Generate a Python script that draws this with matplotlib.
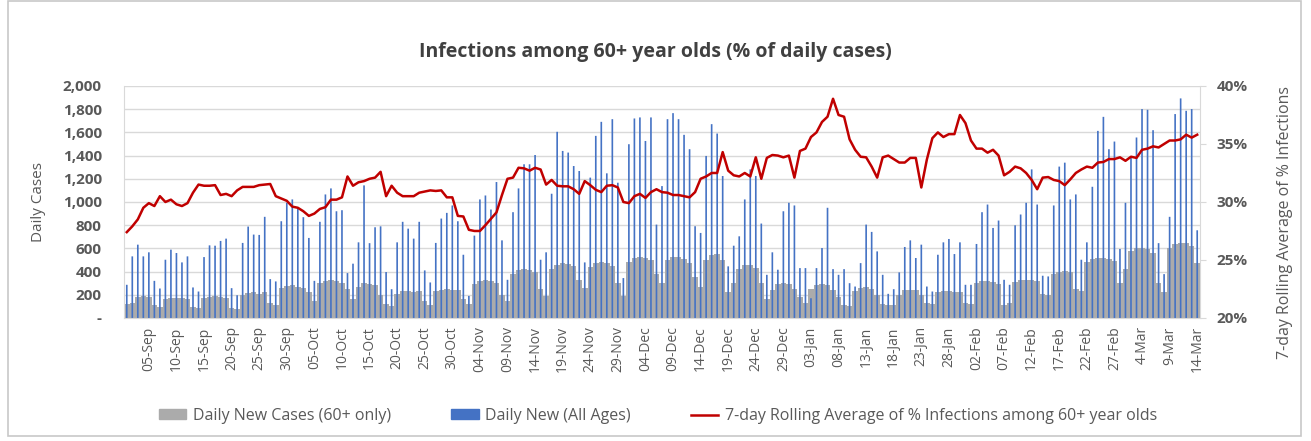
import matplotlib.pyplot as plt
import matplotlib.ticker as mtick
from matplotlib.patches import Rectangle, Patch
from matplotlib.lines import Line2D
import numpy as np

plt.rcParams['font.family'] = ['Open Sans', 'DejaVu Sans']

# daily values, 01-Sep .. 14-Mar
all_ages = [286, 531, 632, 531, 566, 320, 254, 502, 589, 560, 479, 531, 263, 228,
            525, 626, 623, 664, 684, 257, 196, 647, 788, 719, 716, 872, 335, 315,
            834, 993, 1022, 950, 869, 690, 320, 829, 1065, 1117, 920, 929, 387, 468,
            652, 1143, 645, 782, 790, 396, 248, 652, 829, 770, 684, 829, 410, 306,
            647, 857, 906, 970, 834, 545, 190, 710, 1022, 1056, 935, 1172, 669, 329,
            912, 1117, 1325, 1325, 1405, 502, 566, 1071, 1605, 1440, 1426, 1310, 1267, 479,
            1210, 1570, 1691, 1247, 1714, 1166, 344, 1498, 1720, 1729, 1526, 1729, 805, 1137,
            1714, 1766, 1714, 1579, 1455, 791, 733, 1397, 1671, 1590, 1224, 445, 623, 704,
            1022, 1281, 1224, 814, 372, 566, 416, 920, 993, 970, 430, 430, 170, 430,
            603, 950, 421, 372, 421, 300, 271, 473, 805, 742, 574, 372, 208, 248,
            393, 612, 669, 517, 632, 271, 228, 545, 652, 681, 551, 652, 286, 286,
            638, 912, 978, 776, 840, 329, 286, 799, 892, 993, 1281, 978, 364, 358,
            970, 1305, 1339, 1022, 1065, 502, 652, 1131, 1613, 1734, 1455, 1521, 595, 993,
            1391, 1556, 1801, 1795, 1619, 645, 378, 872, 1758, 1893, 1786, 1801, 756]

over60 = [120, 130, 180, 190, 185, 110, 95, 160, 175, 170, 170, 165, 95, 90,
          175, 185, 190, 185, 175, 90, 80, 200, 215, 220, 210, 220, 130, 110,
          260, 275, 280, 270, 260, 220, 150, 300, 320, 330, 320, 300, 250, 160,
          270, 300, 290, 280, 200, 120, 100, 210, 230, 235, 225, 230, 150, 110,
          230, 245, 250, 245, 240, 160, 120, 290, 320, 325, 320, 300, 200, 150,
          380, 410, 420, 410, 400, 250, 190, 420, 460, 470, 465, 450, 330, 260,
          440, 470, 480, 470, 450, 300, 190, 480, 520, 525, 520, 500, 380, 300,
          500, 525, 525, 510, 470, 350, 270, 500, 540, 550, 500, 220, 300, 420,
          460, 460, 430, 300, 160, 240, 290, 300, 295, 250, 180, 130, 250, 280,
          290, 280, 240, 180, 110, 100, 230, 260, 265, 250, 200, 120, 110, 115,
          200, 240, 245, 240, 200, 130, 120, 220, 230, 230, 225, 220, 130, 120,
          300, 320, 315, 310, 290, 115, 130, 310, 330, 330, 325, 320, 210, 200,
          380, 400, 405, 395, 250, 230, 480, 510, 520, 515, 510, 490, 300, 420,
          580, 600, 605, 595, 560, 300, 220, 600, 640, 650, 645, 620, 470]

pct_avg = [27.4, 27.9, 28.5, 29.5, 29.9, 29.65, 30.5, 30.0, 30.2, 29.8, 29.65, 29.9, 30.8, 31.5,
           31.4, 31.4, 31.45, 30.6, 30.7, 30.5, 31.0, 31.3, 31.3, 31.3, 31.45, 31.5, 31.55, 30.5,
           30.3, 30.1, 29.6, 29.5, 29.2, 28.8, 29.0, 29.4, 29.55, 30.2, 30.2, 30.4, 32.2, 31.4,
           31.7, 31.8, 32.0, 32.1, 32.6, 30.5, 31.4, 30.8, 30.5, 30.5, 30.5, 30.8, 30.9, 31.0,
           30.95, 31.0, 30.4, 30.4, 28.8, 28.75, 27.6, 27.5, 27.5, 28.0, 28.55, 29.1, 30.6, 32.0,
           32.1, 32.95, 32.9, 32.7, 32.95, 32.8, 31.5, 31.9, 31.4, 31.35, 31.35, 31.1, 30.7, 31.8,
           31.45, 31.05, 30.85, 31.4, 31.45, 31.25, 30.0, 29.9, 30.5, 30.7, 30.35, 30.85, 31.1, 30.85,
           30.8, 30.6, 30.6, 30.5, 30.4, 30.85, 32.0, 32.2, 32.5, 32.5, 34.3, 32.7, 32.3, 32.2,
           32.5, 32.2, 33.85, 32.0, 33.8, 34.05, 34.0, 33.85, 34.0, 32.1, 34.4, 34.6, 35.6, 36.0,
           36.9, 37.35, 38.9, 37.5, 37.35, 35.4, 34.5, 33.9, 33.85, 33.05, 32.1, 33.85, 34.0, 33.7,
           33.4, 33.4, 33.8, 33.8, 31.25, 33.65, 35.5, 36.0, 35.6, 35.85, 35.85, 37.5, 36.8, 35.3,
           34.6, 34.6, 34.25, 34.5, 34.0, 32.3, 32.6, 33.05, 32.9, 32.5, 31.9, 31.1, 32.1, 32.15,
           31.9, 31.8, 31.45, 31.95, 32.5, 32.8, 33.05, 32.95, 33.4, 33.45, 33.7, 33.7, 33.85, 33.55,
           33.9, 33.8, 34.5, 34.6, 34.8, 34.7, 35.0, 35.3, 35.3, 35.4, 35.8, 35.55, 35.8]

tick_labels = ['05-Sep', '10-Sep', '15-Sep', '20-Sep', '25-Sep', '30-Sep',
               '05-Oct', '10-Oct', '15-Oct', '20-Oct', '25-Oct', '30-Oct',
               '04-Nov', '09-Nov', '14-Nov', '19-Nov', '24-Nov', '29-Nov',
               '04-Dec', '09-Dec', '14-Dec', '19-Dec', '24-Dec', '29-Dec',
               '03-Jan', '08-Jan', '13-Jan', '18-Jan', '23-Jan', '28-Jan',
               '02-Feb', '07-Feb', '12-Feb', '17-Feb', '22-Feb', '27-Feb',
               '4-Mar', '9-Mar', '14-Mar']

grey = '#ABABAB'
blue = '#4472C4'
red = '#C00000'
txt = '#595959'
gridc = '#D9D9D9'

x = np.arange(len(all_ages))
pct = np.array(pct_avg) / 100

fig = plt.figure(figsize=(13.11, 4.41), dpi=100)
fig.patches.append(Rectangle((0.006, 0.012), 0.986, 0.985, transform=fig.transFigure,
                             fill=False, edgecolor='#C8C8C8', linewidth=1.2))
ax = fig.add_axes([0.0946, 0.279, 0.8207, 0.526])

ax.bar(x, over60, width=1.0, color=grey, zorder=2)
ax.bar(x, all_ages, width=0.3, color=blue, zorder=3, snap=False, linewidth=0)
ax.set_xlim(-0.5, len(x) - 0.5)
ax.set_ylim(0, 2000)
ax.set_yticks(range(0, 2001, 200))
ax.yaxis.set_major_formatter(mtick.FuncFormatter(lambda v, p: '-' if v == 0 else f'{int(v):,}'))
ax.grid(axis='y', color=gridc, linewidth=1, zorder=0)
ax.set_axisbelow(True)
for s in ['top', 'right']:
    ax.spines[s].set_visible(False)
ax.spines['left'].set_color(gridc)
ax.spines['bottom'].set_color(gridc)
ax.tick_params(axis='y', length=0, labelsize=11, labelcolor=txt, pad=16)
for lb in ax.get_yticklabels():
    lb.set_fontweight('bold')
ax.set_xticks(x[4::5])
ax.set_xticklabels(tick_labels, rotation=90, fontsize=10, color=txt)
ax.tick_params(axis='x', length=0, pad=6)
ax.set_ylabel('Daily Cases', fontsize=11, color=txt, labelpad=12)

ax2 = ax.twinx()
ax2.plot(x, pct, color=red, linewidth=1.8, zorder=4)
ax2.set_ylim(0.20, 0.40)
ax2.set_yticks([0.20, 0.25, 0.30, 0.35, 0.40])
ax2.yaxis.set_major_formatter(mtick.PercentFormatter(1.0, decimals=0))
for s in ['top', 'left', 'bottom']:
    ax2.spines[s].set_visible(False)
ax2.spines['right'].set_color(gridc)
ax2.tick_params(axis='y', length=4, color=gridc, labelsize=11, labelcolor=txt, pad=8)
for lb in ax2.get_yticklabels():
    lb.set_fontweight('bold')
ax2.set_ylabel('7-day Rolling Average of % Infections', fontsize=11.5, color=txt)
ax2.yaxis.set_label_coords(1.072, 0.41)

fig.suptitle('Infections among 60+ year olds (% of daily cases)', x=0.5, y=0.905,
             fontsize=14, fontweight='bold', color='#404040')

handles = [Patch(color=grey), Patch(color=blue), Line2D([], [], color=red, linewidth=1.8)]
labels = ['Daily New Cases (60+ only)', 'Daily New (All Ages)',
          '7-day Rolling Average of % Infections among 60+ year olds']
fig.legend(handles, labels, loc='center', bbox_to_anchor=(0.502, 0.057), ncol=3,
           frameon=False, fontsize=11.5, handlelength=1.7, handleheight=0.6,
           handletextpad=0.4, columnspacing=3.8, labelcolor=txt)

fig.savefig('out.png', dpi=100)
